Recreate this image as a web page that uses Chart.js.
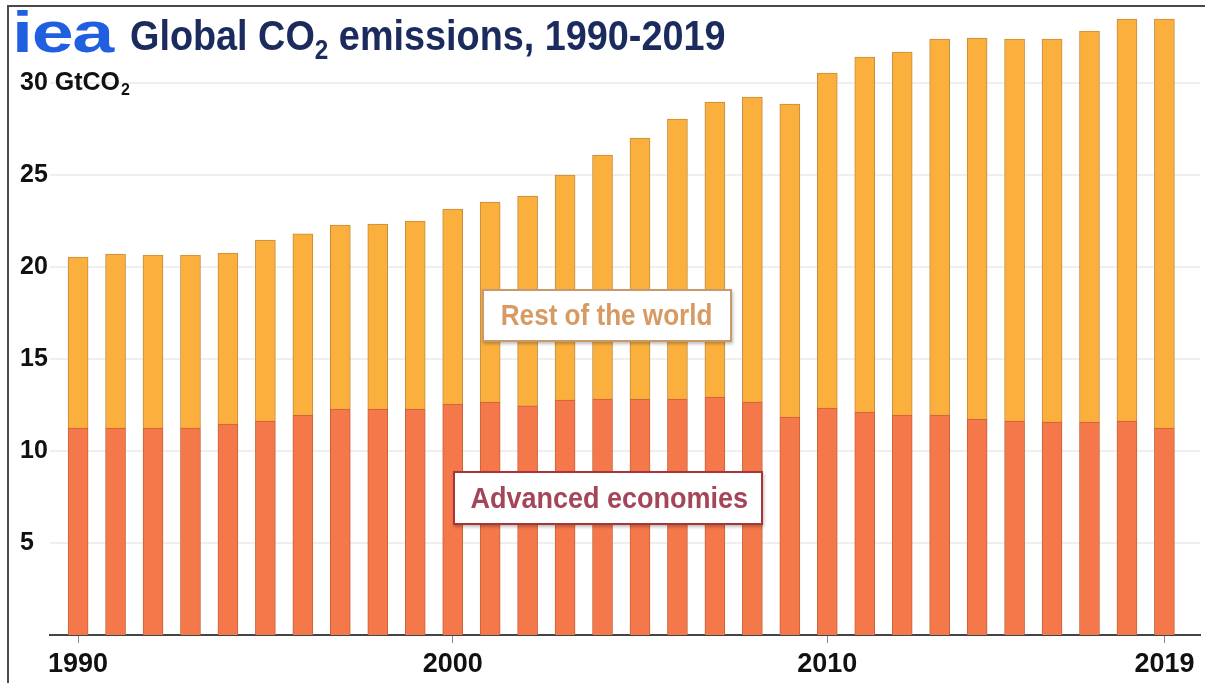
<!DOCTYPE html>
<html>
<head>
<meta charset="utf-8">
<script src="https://cdn.jsdelivr.net/npm/chart.js@4"></script>
<style>
  html, body { margin: 0; padding: 0; background: #fff; }
  #wrap { position: relative; width: 1205px; height: 683px; overflow: hidden; }
  #frame { position: absolute; left: 7px; top: 5px; right: -5px; bottom: -5px;
           border-top: 2px solid #4a4a4a; border-left: 2px solid #4a4a4a; pointer-events: none; }
  #title { position: absolute; left: 12px; top: 7px; white-space: nowrap;
           font-family: "Liberation Sans", Arial, sans-serif; font-weight: bold; }
  #logo { position: absolute; left: 0; top: 0; color: #1f5fe0; font-family: "Liberation Sans", Arial, sans-serif;
          font-size: 58px; line-height: 50px; letter-spacing: -1px; transform: scaleX(1.3); transform-origin: left;
          white-space: nowrap; }
  #ttext { position: absolute; left: 118px; top: 4px; color: #1c2b5e; font-size: 42px; line-height: 50px;
           transform: scaleX(0.9); transform-origin: left; white-space: nowrap; }
  #ttext sub { font-size: 27px; vertical-align: -9px; line-height: 0; }
  .box { position: absolute; background: #fff; box-sizing: border-box; text-align: center; white-space: nowrap;
         font-family: "Liberation Sans", Arial, sans-serif; font-weight: bold;
         box-shadow: 1px 2px 3px rgba(0,0,0,0.25); }
  .box span { display: inline-block; transform: scaleX(0.9); }
  #rest { left: 482px; top: 289px; width: 250px; height: 53px; border: 2px solid #c8996a;
          color: #d79a62; font-size: 29px; line-height: 49px; }
  #adv { left: 453px; top: 471px; width: 310px; height: 54px; border: 2px solid #a8343a;
         color: #a5455a; font-size: 30px; line-height: 50px; }
  canvas { position: absolute; left: 0; top: 0; }
</style>
</head>
<body>
<div id="wrap">
  <canvas id="c" width="1205" height="683"></canvas>
  <div id="frame"></div>
  <div id="title"><span id="logo">iea</span><span id="ttext">Global CO<sub>2</sub> emissions, 1990-2019</span></div>
  <div class="box" id="rest"><span>Rest of the world</span></div>
  <div class="box" id="adv"><span>Advanced economies</span></div>
</div>
<script>
const years = [1990,1991,1992,1993,1994,1995,1996,1997,1998,1999,2000,2001,2002,2003,2004,2005,2006,2007,2008,2009,2010,2011,2012,2013,2014,2015,2016,2017,2018,2019];
const advancedEconomies = [11.25,11.25,11.25,11.25,11.47,11.63,11.96,12.28,12.28,12.28,12.55,12.66,12.45,12.77,12.83,12.83,12.83,12.93,12.66,11.85,12.34,12.12,11.96,11.96,11.74,11.63,11.58,11.58,11.63,11.25];
const restOfWorld = [9.29,9.45,9.40,9.40,9.29,9.84,9.84,10.00,10.06,10.22,10.60,10.87,11.41,12.23,13.26,14.18,15.21,16.04,16.58,17.01,18.20,19.29,19.72,20.43,20.71,20.76,20.81,21.25,21.85,22.23];
const yTicks = [5,10,15,20,25,30];
const xTicks = [1990,2000,2010,2019];
const yUnitMain = 'GtCO';
const yUnitSub = '2';
const yUnitTick = 30;

const FONT = '"Liberation Sans", Arial, sans-serif';

// draws the unit (GtCO₂) next to the top y tick label (the scale clips its own labels to its box)
const unitPlugin = {
  id: 'unitLabel',
  afterDraw(chart) {
    const ys = chart.scales.y;
    const ctx = chart.ctx;
    const py = ys.getPixelForValue(yUnitTick);
    ctx.save();
    ctx.font = 'bold 25px ' + FONT;
    ctx.fillStyle = '#111';
    ctx.textBaseline = 'middle';
    ctx.textAlign = 'left';
    const x0 = ys.left + ctx.measureText(String(yUnitTick) + ' ').width;
    ctx.fillText(yUnitMain, x0, py);
    const w = ctx.measureText(yUnitMain).width;
    ctx.font = 'bold 16px ' + FONT;
    ctx.fillText(yUnitSub, x0 + w + 1, py + 8);
    ctx.restore();
  }
};

new Chart(document.getElementById('c'), {
  type: 'bar',
  data: {
    datasets: [
      { label: 'Advanced economies', data: years.map((y,i)=>({x:y, y:advancedEconomies[i]})),
        backgroundColor: '#f5784a', borderColor: '#c8603a', borderWidth: 1, barThickness: 20 },
      { label: 'Rest of the world', data: years.map((y,i)=>({x:y, y:restOfWorld[i]})),
        backgroundColor: '#fbb03e', borderColor: '#c48c3c', borderWidth: 1, barThickness: 20 }
    ]
  },
  plugins: [unitPlugin],
  options: {
    responsive: false,
    animation: false,
    devicePixelRatio: 1,
    layout: { padding: { left: 20, right: 5, top: 9, bottom: 0 } },
    plugins: { legend: { display: false }, tooltip: { enabled: false }, title: { display: false } },
    scales: {
      x: {
        type: 'linear', stacked: true, min: 1989.25, max: 2019.95, offset: false,
        afterBuildTicks: s => { s.ticks = xTicks.map(v => ({ value: v })); },
        afterFit: s => { s.height = 48; },
        grid: { display: true, offset: false, drawOnChartArea: false, drawTicks: true, tickLength: 8, color: '#888', lineWidth: 1 },
        border: { display: true, color: '#444', width: 2 },
        ticks: { color: '#111', font: { family: FONT, size: 27, weight: 'bold' }, padding: 5, maxRotation: 0,
                 callback: v => String(v) }
      },
      y: {
        stacked: true, min: 0, max: 33.7,
        afterBuildTicks: s => { s.ticks = yTicks.map(v => ({ value: v })); },
        afterFit: s => { s.width = 30; },
        grid: { color: '#efefef', lineWidth: 2, drawTicks: false },
        border: { display: false },
        ticks: { color: '#111', font: { family: FONT, size: 25, weight: 'bold' }, padding: 0,
                 crossAlign: 'far', callback: v => String(v) }
      }
    }
  }
});
</script>
</body>
</html>
